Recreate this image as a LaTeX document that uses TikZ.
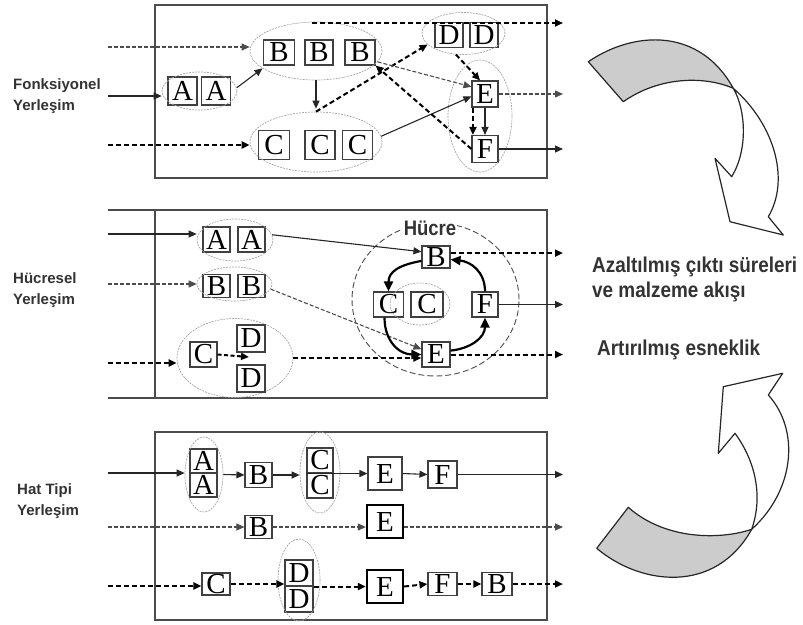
\documentclass[tikz,border=0pt]{standalone}
\usepackage{fontspec}
\setmainfont{Liberation Serif}
\newfontfamily\labfont{Liberation Sans}
\newfontfamily\narrowfont[FakeStretch=0.88]{Liberation Sans}
\usetikzlibrary{arrows.meta,shapes.geometric,calc}
\tikzset{
  box/.style={draw=black!75, line width=1.1pt, inner sep=0pt, minimum width=28pt, minimum height=25pt, font=\fontsize{29}{29}\selectfont},
  bbox/.style={box, draw=black, line width=2.3pt, minimum width=36pt, minimum height=33pt},
  grp/.style={ellipse, draw=gray!70, line width=0.7pt, dash pattern=on 2pt off 1pt, inner sep=0pt},
  frm/.style={draw=black!70, line width=1.6pt},
  lab/.style={anchor=north west, inner sep=0pt, align=left, text=black!80, font=\labfont\bfseries\fontsize{15}{21}\selectfont},
  rlab/.style={anchor=base west, inner sep=0pt, text=black!80, font=\narrowfont\bfseries\fontsize{21.5}{21.5}\selectfont},
  arr/.style={-{Triangle[length=8pt,width=7pt]}},
  sol/.style={arr, draw=black!85, line width=1.1pt},
  dthin/.style={arr, draw=black!70, line width=1.1pt, dash pattern=on 4pt off 2pt},
  dthick/.style={arr, draw=black, line width=2pt, dash pattern=on 5pt off 3pt},
  cur/.style={draw=black, line width=2.2pt, -{Triangle[length=10pt,width=9pt]}},
  dcell/.style={ellipse, draw=gray!60!black, line width=0.9pt, dash pattern=on 6pt off 3pt, inner sep=0pt},
  bigarr/.style={draw=black!85, line width=1.2pt, line join=round}
}
\begin{document}
\begin{tikzpicture}[x=1pt,y=-1pt]
\useasboundingbox (0,0) rectangle (803,624);
\coordinate (R) at (563,0);

% ================= TOP: Fonksiyonel =================
\draw[frm] (155,5) rectangle (547,178);
\node[lab] (lab1) at (13,78) {Fonksiyonel\\Yerleşim};
\coordinate (L1) at (108,47);
\coordinate (L2) at (108,96);
\coordinate (L3) at (108,145);
\coordinate (tTop) at (312,23);

\node[box, minimum width=29pt, minimum height=28pt] (tA1) at (182.5,91) {A};
\node[box, minimum width=29pt, minimum height=28pt] (tA2) at (216,91) {A};
\node[grp, minimum width=75pt, minimum height=38pt] (tgA) at (199.5,91) {};
\node[box, minimum width=31pt] (tB1) at (279,52.5) {B};
\node[box] (tB2) at (319,52.5) {B};
\node[box, minimum width=30pt] (tB3) at (360,52.5) {B};
\node[grp, minimum width=132pt, minimum height=58pt] (tgB) at (316,51) {};
\node[box, minimum width=31pt, minimum height=29pt] (tC1) at (274,145) {C};
\node[box, minimum width=30pt, minimum height=29pt] (tC2) at (320,145) {C};
\node[box, minimum width=30pt, minimum height=29pt] (tC3) at (357.5,145) {C};
\node[grp, minimum width=132pt, minimum height=60pt] (tgC) at (316,142) {};
\node[box] (tD1) at (449,35) {D};
\node[box] (tD2) at (484,35) {D};
\node[grp, minimum width=83pt, minimum height=42pt] (tgD) at (463.5,33.5) {};
\node[box, minimum width=26pt, minimum height=26pt] (tE) at (485,94) {E};
\node[box, minimum width=26pt, minimum height=27pt] (tF) at (485,149) {F};
\node[grp, minimum width=64pt, minimum height=112pt] (tgEF) at (480,116) {};

\draw[dthin] (L1) -- (L1 -| tgB.west);
\draw[sol] (L2) -- (L2 -| tgA.west);
\draw[dthick] (L3) -- (L3 -| tgC.west);
\draw[dthick] (tTop) -- (tTop -| R);
\draw[sol] (tgA.5) -- (tgB.198);
\draw[sol, shorten >=3pt] (tgB.south) -- (tgC.north);
\draw[dthick] (tgC.north) -- (tgD.197);
\draw[dthin] (tgB.350) -- (tE.152);
\draw[dthick] (tgD.250) -- (tE.110);
\draw[sol] (tgC.5) -- (tE.190);
\draw[dthick] (tF.west) -- (tB3.south east);
\draw[dthick] ([xshift=1.5pt]tE.south west) -- ([xshift=1.5pt]tF.north west);
\draw[sol] (tE.south) -- (tF.north);
\draw[dthin] (tE.east) -- (tE.east -| R);
\draw[sol] (tF.east) -- (tF.east -| R);

% ================= MIDDLE: Hucresel =================
\draw[frm] (108,210) -- (547,210) -- (547,398) -- (108,398);
\draw[frm] (155,210) -- (155,398);
\node[lab] (lab2) at (13,272) {Hücresel\\Yerleşim};
\coordinate (M1) at (108,234);
\coordinate (M2) at (108,284);
\coordinate (M3) at (108,363);

\node[box, minimum width=27pt] (mA1) at (216.5,239.5) {A};
\node[box, minimum width=27pt] (mA2) at (251.5,239.5) {A};
\node[grp, minimum width=76pt, minimum height=42pt] (mgA) at (235,240) {};
\node[box, minimum width=27pt, minimum height=23pt] (mB1) at (216.5,286) {B};
\node[box, minimum width=27pt, minimum height=23pt] (mB2) at (251.5,286) {B};
\node[grp, minimum width=75pt, minimum height=34pt] (mgB) at (234.5,284) {};
\node[grp, minimum width=116pt, minimum height=79pt] (mgCD) at (235,358) {};
\node[box, minimum width=27pt] (mC) at (203.5,354.5) {C};
\node[box, minimum height=27pt] (mD1) at (251,338.5) {D};
\node[box, minimum height=27pt] (mD2) at (251,378.5) {D};
\coordinate (mgap) at (249,357);

\node[dcell, minimum width=167pt, minimum height=153pt] (mgCell) at (435.5,299.5) {};
\node[fill=white, inner sep=1pt, text=black!80, font=\narrowfont\bfseries\fontsize{21}{21}\selectfont] (hucre) at (430,228) {Hücre};
\node[box, minimum height=22pt] (mB) at (436,257) {B};
\node[box, minimum width=30pt] (mC1) at (388.5,304.5) {C};
\node[box, minimum width=32pt] (mC2) at (427,304.5) {C};
\node[grp, minimum width=60pt, minimum height=42pt] (mgCC) at (420,304) {};
\node[box, minimum width=26pt] (mF) at (485,304.5) {F};
\node[box] (mE) at (436,354.5) {E};

\draw[sol] (M1) -- (M1 -| mgA.west);
\draw[dthin] (M2) -- (M2 -| mgB.west);
\draw[dthick] (M3) -- (M3 -| mgCD.west);
\draw[dthick, dash pattern=on 4pt off 2.5pt] (mC.east) -- (mgap);
\draw[sol] (mgA.8) -- (mB.160);
\draw[dthin] (mgB.-8) -- (mE.160);
\draw[dthick] (mgCD.east) -- (mgCD.east -| mE.west);
\draw[dthick] (mB.15) -- (mB.15 -| R);
\draw[sol] (mF.east) -- (mF.east -| R);
\draw[dthick] (mE.east) -- (mE.east -| R);
\draw[cur] (mB.195) .. controls +(-22,4) and +(0,-20) .. (mC1.north);
\draw[cur] ([xshift=-4pt]mC1.south) .. controls +(0,24) and +(-22,0) .. (mE.west);
\draw[cur] (mE.15) .. controls +(20,-2) and +(0,20) .. (mF.south);
\draw[cur] (mF.north) .. controls +(0,-20) and +(20,2) .. (mB.-10);

% ================= BOTTOM: Hat Tipi =================
\draw[frm] (155,432) rectangle (547,620);
\node[lab] (lab3) at (17,483) {Hat Tipi\\Yerleşim};
\coordinate (H1) at (108,473);
\coordinate (H2) at (108,527);
\coordinate (H3) at (108,586);

\node[box, minimum width=27pt, minimum height=24pt] (hA1) at (203.5,461) {A};
\node[box, minimum width=27pt, minimum height=24pt] (hA2) at (203.5,485) {A};
\node[grp, minimum width=38pt, minimum height=75pt] (hgA) at (204,474.5) {};
\node[box, minimum width=27pt] (hB) at (258.5,475) {B};
\node[box, minimum width=26pt] (hC1) at (320,460.5) {C};
\node[box, minimum width=26pt] (hC2) at (320,485.5) {C};
\node[grp, minimum width=40pt, minimum height=81pt] (hgC) at (320,472.5) {};
\node[box, minimum width=34pt, minimum height=33pt] (hE) at (385,473.5) {E};
\node[box, minimum width=29pt, minimum height=27pt] (hF) at (442.5,474.5) {F};

\node[box, minimum width=27pt, minimum height=23pt] (hB2) at (258.5,527) {B};
\node[bbox] (hEb1) at (385,521.5) {E};

\node[box, minimum height=22pt] (hC3) at (216,584) {C};
\node[box, minimum height=26pt] (hD1) at (299,573) {D};
\node[box, minimum height=26pt] (hD2) at (299,599) {D};
\node[grp, minimum width=42pt, minimum height=82pt] (hgD) at (299,580) {};
\node[bbox] (hEb2) at (385,586.5) {E};
\node[box, minimum width=29pt, minimum height=23pt] (hF3) at (442.5,584) {F};
\node[box, minimum width=30pt, minimum height=23pt] (hB3) at (497,584) {B};

\draw[sol] (H1) -- (H1 -| hgA.west);
\draw[sol] (hgA.east) -- (hB.west);
\draw[sol] (hB.east) -- (hB.east -| hgC.west);
\draw[sol] (hC1.south west) -- (hC1.south west -| hE.west);
\draw[sol] (hE.east) -- (hF.west);
\draw[sol] (hF.east) -- (hF.east -| R);

\draw[dthin] (H2) -- (H2 -| hB2.west);
\draw[dthin] (hB2.east) -- (hB2.east -| hEb1.west);
\draw[dthin] (hB2.east -| hEb1.east) -- (hB2.east -| R);

\draw[dthick] (H3) -- (H3 -| hC3.west);
\draw[dthick] (hC3.east) -- (hC3.east -| hD1.west);
\draw[dthick] (hD1.south east) -- (hD1.south east -| hEb2.west);
\draw[dthick] (hEb2.east) -- (hF3.west);
\draw[dthick] (hF3.east) -- (hB3.west);
\draw[dthick] (hB3.east) -- (hB3.east -| R);

% ================= RIGHT: texts and curved block arrows =================
\node[rlab] (t1) at (592,272) {Azaltılmış çıktı süreleri};
\node[rlab] (t2) at (592,297) {ve malzeme akışı};
\node[rlab] (t3) at (597,355) {Artırılmış esneklik};

% top curved block arrow (pointing down)
\filldraw[bigarr, fill=gray!40] (588.3,61.7) .. controls (635,30) and (700,28) .. (733.3,88.3)
  .. controls (705,76) and (660,76) .. (623.3,101.7) -- cycle;
\filldraw[bigarr, fill=white] (733.3,88.3) .. controls (775,125) and (790,180) .. (768.3,216.7)
  -- (783.3,235) -- (730,221.7) -- (715,158.3) -- (731.7,176.7)
  .. controls (748,150) and (746,110) .. (733.3,88.3) -- cycle;

% bottom curved block arrow (pointing up)
\filldraw[bigarr, fill=gray!40] (596.7,548.3) .. controls (640,585) and (715,595) .. (751.7,529.3)
  .. controls (720,540) and (665,540) .. (628.3,507.3) -- cycle;
\filldraw[bigarr, fill=white] (751.7,529.3) .. controls (795,490) and (800,430) .. (768.3,395)
  -- (782.7,373.3) -- (723.3,386.7) -- (718.3,453.3) -- (735,433.3)
  .. controls (758,465) and (762,500) .. (751.7,529.3) -- cycle;
\end{tikzpicture}
\end{document}
